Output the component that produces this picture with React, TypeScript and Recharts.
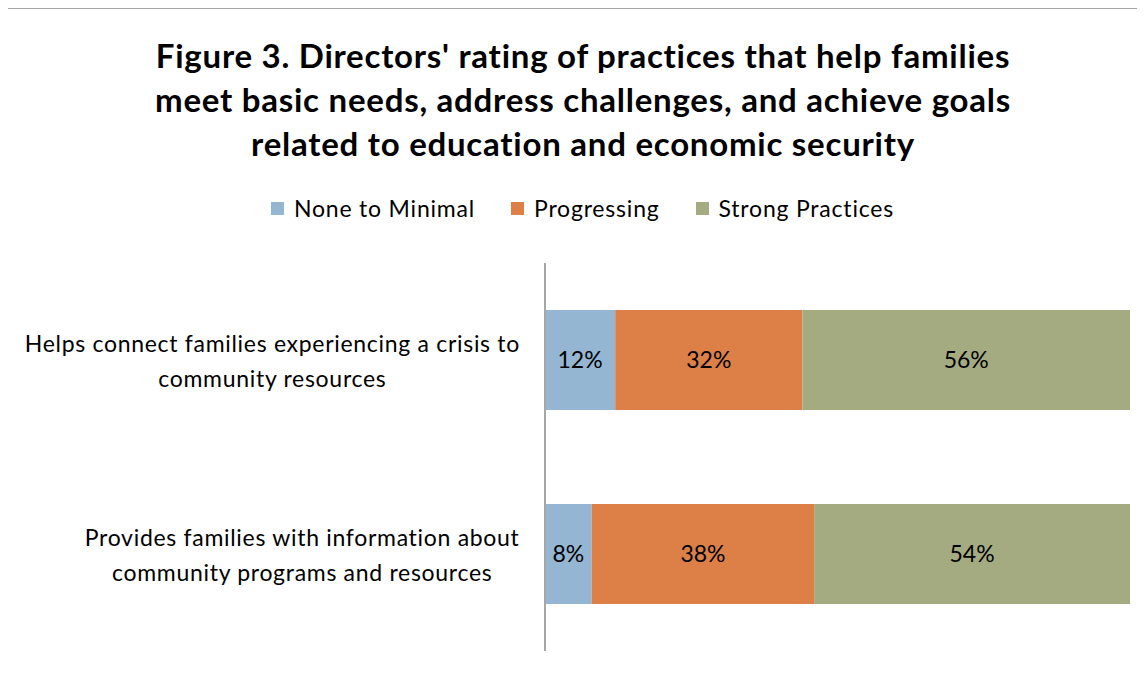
import { Bar, BarChart, LabelList, Legend, XAxis, YAxis } from "recharts";

const categories = [
  "Helps connect families experiencing a crisis to|community resources",
  "Provides families with information about|community programs and resources",
];
const noneToMinimal = [12, 8];
const progressing = [32, 38];
const strongPractices = [56, 54];

const seriesNames = ["None to Minimal", "Progressing", "Strong Practices"];
const seriesKeys = ["none", "progressing", "strong"];
const colors = ["#94b6d2", "#dd8047", "#a5ab81"];

const titleLines = [
  "Figure 3. Directors' rating of practices that help families",
  "meet basic needs, address challenges, and achieve goals",
  "related to education and economic security",
];

const data = categories.map((c, i) => ({
  name: c,
  none: noneToMinimal[i],
  progressing: progressing[i],
  strong: strongPractices[i],
}));

const FONT = "Lato, 'Open Sans', sans-serif";
const LABEL_SIZE = 23;
const LABEL_SPACING = 0.7;

// measure text width so multi-line labels can be centred within their block
let ctx: CanvasRenderingContext2D | null = null;
const measure = (s: string) => {
  if (!ctx) ctx = document.createElement("canvas").getContext("2d");
  if (!ctx) return s.length * LABEL_SIZE * 0.5;
  ctx.font = `${LABEL_SIZE}px ${FONT}`;
  return ctx.measureText(s).width + s.length * LABEL_SPACING;
};

const CategoryTick = (props: any) => {
  const { x, y, payload } = props;
  const lines = String(payload.value).split("|");
  const maxW = Math.max(...lines.map(measure));
  const cx = x - 17 - maxW / 2;
  return (
    <g>
      {lines.map((l, i) => (
        <text
          key={i}
          x={cx}
          y={y + (i - (lines.length - 1) / 2) * 35}
          textAnchor="middle"
          dominantBaseline="central"
          fontSize={LABEL_SIZE}
          letterSpacing={LABEL_SPACING}
          fill="#000"
          fontFamily={FONT}
        >
          {l}
        </text>
      ))}
    </g>
  );
};

const LegendContent = () => (
  <div
    style={{
      display: "flex",
      justifyContent: "center",
      gap: 36,
      fontFamily: FONT,
      fontSize: 23,
      letterSpacing: 0.8,
      color: "#000",
      paddingLeft: 12,
    }}
  >
    {seriesNames.map((n, i) => (
      <div key={n} style={{ display: "flex", alignItems: "center" }}>
        <span
          style={{
            width: 13,
            height: 13,
            background: colors[i],
            display: "inline-block",
            marginRight: 10,
          }}
        />
        <span>{n}</span>
      </div>
    ))}
  </div>
);

export default function App() {
  return (
    <div
      style={{
        position: "relative",
        left: -1,
        width: 1138,
        height: 665,
        borderLeft: "1px solid #a6a6a6",
        borderTop: "1px solid #a6a6a6",
        overflow: "hidden",
        background: "#fff",
      }}
    >
      <div
        style={{
          position: "absolute",
          top: 24,
          left: 0,
          width: 1150,
          textAlign: "center",
          fontFamily: FONT,
          fontWeight: 700,
          fontSize: 33,
          letterSpacing: 0.75,
          lineHeight: "44px",
          color: "#000",
        }}
      >
        {titleLines.map((t) => (
          <div key={t}>{t}</div>
        ))}
      </div>
      <BarChart
        width={1137}
        height={664}
        data={data}
        layout="vertical"
        margin={{ top: 254, right: 15, bottom: 22, left: 0 }}
      >
        <XAxis type="number" domain={[0, 100]} hide />
        <YAxis
          type="category"
          dataKey="name"
          width={537}
          axisLine={{ stroke: "#a6a6a6", strokeWidth: 2 }}
          tickLine={false}
          tick={<CategoryTick />}
        />
        <Legend
          verticalAlign="middle"
          align="center"
          wrapperStyle={{ top: 185, left: 0, width: 1137 }}
          content={<LegendContent />}
        />
        {seriesKeys.map((k, i) => (
          <Bar
            key={k}
            dataKey={k}
            name={seriesNames[i]}
            stackId="a"
            fill={colors[i]}
            barSize={100}
            isAnimationActive={false}
          >
            <LabelList
              dataKey={k}
              position="center"
              formatter={(v: any) => `${v}%`}
              fill="#000"
              fontSize={23}
              fontFamily={FONT}
            />
          </Bar>
        ))}
      </BarChart>
    </div>
  );
}
